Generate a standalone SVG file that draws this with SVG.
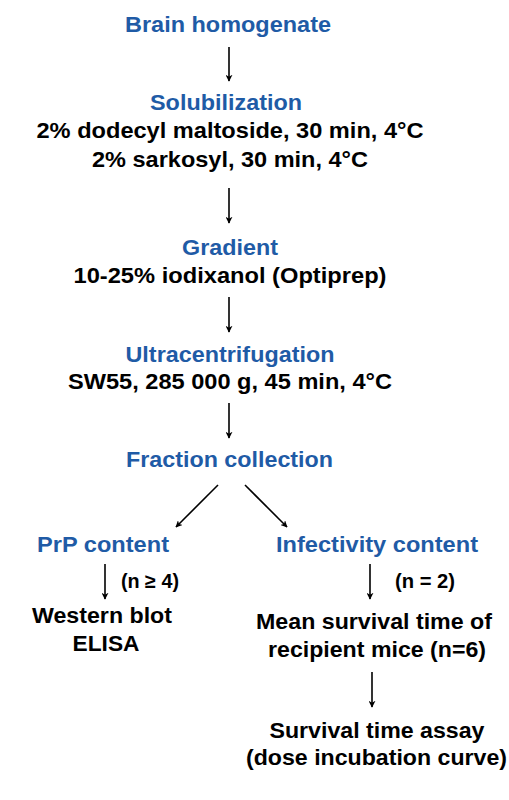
<svg xmlns="http://www.w3.org/2000/svg" width="509" height="800" viewBox="0 0 509 800">
<style>
text{font-family:"Liberation Sans",Arial,sans-serif;font-weight:bold;text-anchor:middle}
.h{fill:#1F5BA6;font-size:22.5px}
.b{fill:#000;font-size:22.5px}
.n{fill:#000;font-size:20px;text-anchor:start}
.c{stroke:#000;stroke-width:1.6;fill:none;marker-end:url(#ah)}
</style>
<defs>
<marker id="ah" viewBox="0 0 10 10" refX="9" refY="5" markerWidth="7" markerHeight="7" markerUnits="userSpaceOnUse" orient="auto">
<path d="M0,0 L10,5 L0,10 L3,5 Z" fill="#000"/>
</marker>
</defs>
<rect width="509" height="800" fill="#fff"/>
<g id="brain"><text class="h" x="228" y="32" textLength="206" lengthAdjust="spacingAndGlyphs">Brain homogenate</text></g>
<g id="solubilization">
<text class="h" x="226" y="110" textLength="152" lengthAdjust="spacingAndGlyphs">Solubilization</text>
<text class="b" x="230" y="138" textLength="387" lengthAdjust="spacingAndGlyphs">2% dodecyl maltoside, 30 min, 4°C</text>
<text class="b" x="230" y="167" textLength="276" lengthAdjust="spacingAndGlyphs">2% sarkosyl, 30 min, 4°C</text>
</g>
<g id="gradient">
<text class="h" x="230" y="255" textLength="96" lengthAdjust="spacingAndGlyphs">Gradient</text>
<text class="b" x="230" y="283" textLength="313" lengthAdjust="spacingAndGlyphs">10-25% iodixanol (Optiprep)</text>
</g>
<g id="ultracentrifugation">
<text class="h" x="230" y="362" textLength="209" lengthAdjust="spacingAndGlyphs">Ultracentrifugation</text>
<text class="b" x="230" y="389" textLength="324" lengthAdjust="spacingAndGlyphs">SW55, 285 000 g, 45 min, 4°C</text>
</g>
<g id="fraction"><text class="h" x="229.5" y="467" textLength="207" lengthAdjust="spacingAndGlyphs">Fraction collection</text></g>
<g id="prp"><text class="h" x="103" y="552" textLength="132" lengthAdjust="spacingAndGlyphs">PrP content</text></g>
<g id="infectivity"><text class="h" x="377" y="552" textLength="202" lengthAdjust="spacingAndGlyphs">Infectivity content</text></g>
<g id="western">
<text class="b" x="102" y="623" textLength="140" lengthAdjust="spacingAndGlyphs">Western blot</text>
<text class="b" x="106" y="651" textLength="67" lengthAdjust="spacingAndGlyphs">ELISA</text>
</g>
<g id="mean">
<text class="b" x="374" y="629" textLength="236" lengthAdjust="spacingAndGlyphs">Mean survival time of</text>
<text class="b" x="377" y="657" textLength="218" lengthAdjust="spacingAndGlyphs">recipient mice (n=6)</text>
</g>
<g id="survival">
<text class="b" x="377" y="738" textLength="215" lengthAdjust="spacingAndGlyphs">Survival time assay</text>
<text class="b" x="376.5" y="765" textLength="261" lengthAdjust="spacingAndGlyphs">(dose incubation curve)</text>
</g>
<g id="connectors">
<line class="c" x1="229" y1="47" x2="229" y2="81"/>
<line class="c" x1="229" y1="188" x2="229" y2="223"/>
<line class="c" x1="229" y1="297" x2="229" y2="332"/>
<line class="c" x1="229" y1="403" x2="229" y2="438"/>
<line class="c" x1="218" y1="485" x2="176" y2="527"/>
<line class="c" x1="245" y1="485" x2="287" y2="527"/>
<line class="c" x1="105" y1="564" x2="105" y2="599"/>
<text class="n" x="121" y="588" textLength="58" lengthAdjust="spacingAndGlyphs">(n ≥ 4)</text>
<line class="c" x1="370" y1="564" x2="370" y2="599"/>
<text class="n" x="395" y="588" textLength="60" lengthAdjust="spacingAndGlyphs">(n = 2)</text>
<line class="c" x1="372" y1="672" x2="372" y2="707"/>
</g>
</svg>
